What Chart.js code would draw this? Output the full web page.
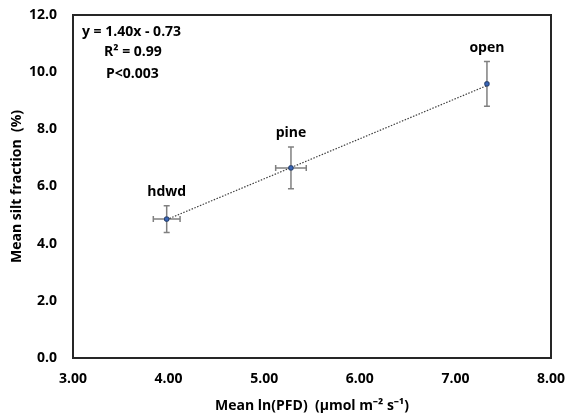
<!DOCTYPE html>
<html>
<head>
<meta charset="utf-8">
<script src="https://cdn.jsdelivr.net/npm/chart.js@4"></script>
<style>
html,body{margin:0;padding:0;background:#fff;}
#wrap{width:567px;height:416px;}
</style>
</head>
<body>
<div id="wrap"><canvas id="c" width="567" height="416"></canvas></div>
<script>
const sites = ["hdwd", "pine", "open"];
const lnPFD = [3.98, 5.28, 7.33];
const siltPct = [4.86, 6.65, 9.59];
const siltErr = [0.47, 0.73, 0.78];
const lnPFDErr = [0.14, 0.16, 0];
const fitSlope = 1.40;
const fitIntercept = -0.73;
const statLines = ["y = 1.40x - 0.73", "R\u00B2 = 0.99", "P<0.003"];
const xTicks = [3, 4, 5, 6, 7, 8];
const yTicks = [0, 2, 4, 6, 8, 10, 12];

const FONT = "'Open Sans', 'Liberation Sans', sans-serif";

const pts = lnPFD.map((x, i) => ({x: x, y: siltPct[i]}));
const xMin = Math.min(...lnPFD), xMax = Math.max(...lnPFD);
const trend = [{x: xMin, y: fitSlope * xMin + fitIntercept}, {x: xMax, y: fitSlope * xMax + fitIntercept}];

const extras = {
  id: 'extras',
  beforeDatasetsDraw(chart) {
    const {ctx, scales: {x, y}} = chart;
    const a = chart.chartArea;
    ctx.save();
    ctx.fillStyle = '#262626';
    const L = Math.round(a.left), R = Math.round(a.right), T = Math.round(a.top), B = Math.round(a.bottom);
    ctx.fillRect(L - 1, T - 1, R - L + 2, 2);
    ctx.fillRect(L - 1, B - 1, R - L + 2, 2);
    ctx.fillRect(L - 1, T - 1, 2, B - T + 2);
    ctx.fillRect(R - 1, T - 1, 2, B - T + 2);
    ctx.strokeStyle = '#808080';
    ctx.lineWidth = 1.5;
    const cap = 3;
    pts.forEach((p, i) => {
      const px = x.getPixelForValue(p.x), py = y.getPixelForValue(p.y);
      const e = siltErr[i];
      if (e > 0) {
        const t = y.getPixelForValue(p.y + e), b = y.getPixelForValue(p.y - e);
        ctx.beginPath();
        ctx.moveTo(px, t); ctx.lineTo(px, b);
        ctx.moveTo(px - cap, t); ctx.lineTo(px + cap, t);
        ctx.moveTo(px - cap, b); ctx.lineTo(px + cap, b);
        ctx.stroke();
      }
      const ex = lnPFDErr[i];
      if (ex > 0) {
        const l = x.getPixelForValue(p.x - ex), r = x.getPixelForValue(p.x + ex);
        ctx.beginPath();
        ctx.moveTo(l, py); ctx.lineTo(r, py);
        ctx.moveTo(l, py - cap); ctx.lineTo(l, py + cap);
        ctx.moveTo(r, py - cap); ctx.lineTo(r, py + cap);
        ctx.stroke();
      }
    });
    ctx.restore();
  },
  afterDraw(chart) {
    const {ctx, scales: {x, y}} = chart;
    const a = chart.chartArea;
    ctx.save();
    ctx.fillStyle = '#000';
    ctx.font = "bold 14px " + FONT;
    ctx.textAlign = 'center';
    ctx.textBaseline = 'alphabetic';
    pts.forEach((p, i) => {
      const px = x.getPixelForValue(p.x);
      const top = y.getPixelForValue(p.y + siltErr[i]);
      ctx.fillText(sites[i], px, top - 10);
    });
    ctx.textAlign = 'left';
    const sx = [a.left + 9, a.left + 31, a.left + 33];
    const sy = [a.top + 21, a.top + 41, a.top + 63];
    statLines.forEach((s, i) => ctx.fillText(s, sx[i], sy[i]));
    ctx.restore();
  }
};

new Chart(document.getElementById('c'), {
  type: 'scatter',
  data: {
    datasets: [
      {
        data: pts,
        backgroundColor: '#3a66b8',
        borderColor: '#1f3864',
        borderWidth: 1,
        pointRadius: 2.5,
        pointStyle: 'rectRounded',
        order: 0
      },
      {
        type: 'line',
        data: trend,
        borderColor: '#404040',
        borderWidth: 1.2,
        borderDash: [1.5, 1.5],
        pointRadius: 0,
        fill: false,
        order: 1
      }
    ]
  },
  plugins: [extras],
  options: {
    responsive: false,
    animation: false,
    devicePixelRatio: 1,
    layout: {padding: {top: 15, right: 16, left: 0, bottom: 0}},
    plugins: {legend: {display: false}, tooltip: {enabled: false}},
    scales: {
      x: {
        type: 'linear',
        min: 3, max: 8,
        afterBuildTicks(s) { s.ticks = xTicks.map(v => ({value: v})); },
        afterFit(s) { s.height = 58; s.paddingLeft = 0; s.paddingRight = 0; },
        grid: {display: false, drawTicks: false},
        border: {display: false},
        ticks: {
          color: '#000',
          font: {family: FONT, size: 14, weight: 'bold'},
          padding: 13,
          callback: v => Number(v).toFixed(2)
        },
        title: {
          display: true,
          text: 'Mean ln(PFD)  (\u00B5mol m\u207B\u00B2 s\u207B\u00B9)',
          color: '#000',
          font: {family: FONT, size: 14, weight: 'bold'},
          padding: {top: 0, bottom: 2}
        }
      },
      y: {
        type: 'linear',
        min: 0, max: 12,
        afterBuildTicks(s) { s.ticks = yTicks.map(v => ({value: v})); },
        afterFit(s) { s.width = 73; s.paddingTop = 0; s.paddingBottom = 0; },
        grid: {display: false, drawTicks: false},
        border: {display: false},
        ticks: {
          color: '#000',
          font: {family: FONT, size: 14, weight: 'bold'},
          padding: 16,
          callback: v => Number(v).toFixed(1)
        },
        title: {
          display: true,
          text: 'Mean silt fraction  (%)',
          color: '#000',
          font: {family: FONT, size: 14, weight: 'bold'},
          padding: {top: 9, bottom: 0}
        }
      }
    }
  }
});
</script>
</body>
</html>
